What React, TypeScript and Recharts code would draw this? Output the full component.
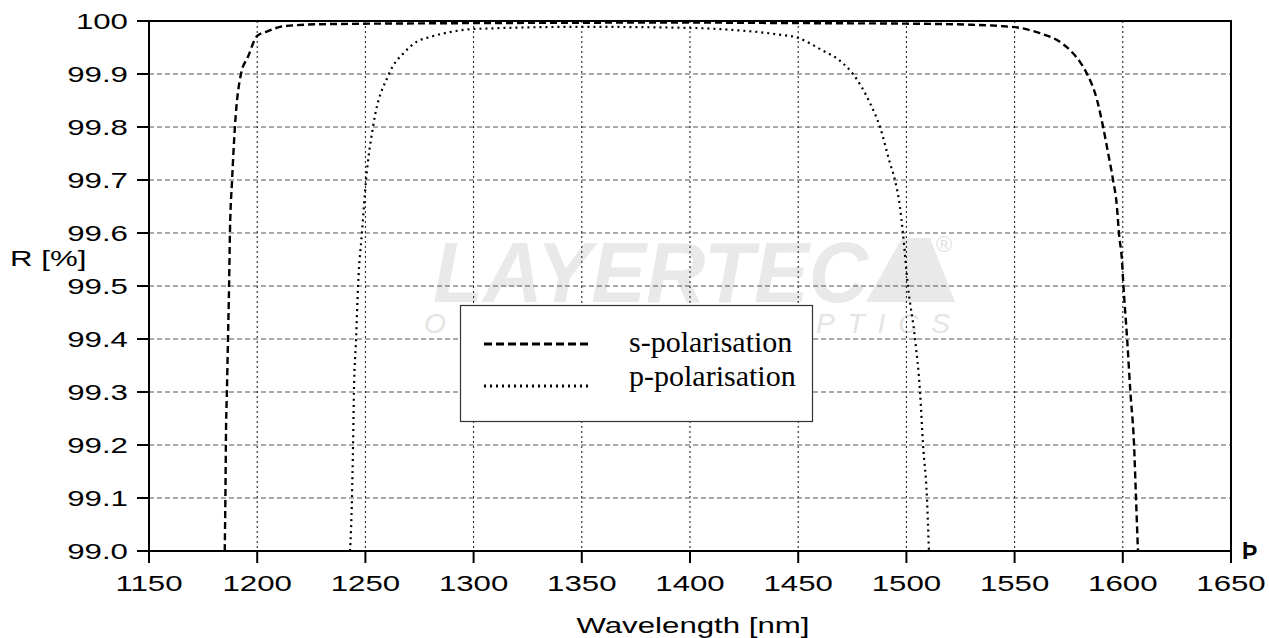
import React from 'react';
import { LineChart, Line, XAxis, YAxis, CartesianGrid } from 'recharts';

const xTicks = [1150, 1200, 1250, 1300, 1350, 1400, 1450, 1500, 1550, 1600, 1650];
const yTicks = [99.0, 99.1, 99.2, 99.3, 99.4, 99.5, 99.6, 99.7, 99.8, 99.9, 100];

// s-polarisation
const sWavelength = [
    1185.0, 1185.3, 1185.6, 1186.0, 1186.5, 1187.0, 1187.4, 1188.4, 1189.7, 1192.5, 1195.7, 1200.0,
    1205.0, 1212.0, 1230.0, 1300.0, 1400.0, 1450.0, 1500.0, 1530.0, 1545.0, 1552.5, 1561.7, 1569.6,
    1575.6, 1580.2, 1583.5, 1588.1, 1590.9, 1593.2, 1595.5, 1597.3, 1598.2, 1599.6, 1600.3, 1602.0,
    1603.5, 1605.2, 1606.1, 1607.0,
];
const sReflectance = [
    99.0, 99.1, 99.23, 99.3, 99.4, 99.5, 99.6, 99.7, 99.8, 99.9, 99.932, 99.972,
    99.981, 99.99, 99.994, 99.996, 99.997, 99.996, 99.995, 99.993, 99.99, 99.987, 99.977, 99.964,
    99.945, 99.923, 99.9, 99.851, 99.8, 99.751, 99.7, 99.649, 99.6, 99.549, 99.5, 99.4,
    99.3, 99.2, 99.1, 99.0,
];

// p-polarisation
const pWavelength = [
    1242.9, 1243.8, 1244.3, 1244.7, 1245.7, 1246.6, 1248.4, 1250.3, 1253.5, 1260.9, 1268.3, 1273.8,
    1280.0, 1289.0, 1300.6, 1350.0, 1400.0, 1420.0, 1440.0, 1450.0, 1461.0, 1469.3, 1475.3, 1483.2,
    1487.8, 1492.4, 1494.7, 1497.0, 1498.4, 1500.7, 1504.0, 1506.3, 1507.7, 1509.5, 1510.4,
];
const pReflectance = [
    99.0, 99.1, 99.2, 99.3, 99.4, 99.5, 99.6, 99.7, 99.8, 99.9, 99.942, 99.961,
    99.97, 99.979, 99.985, 99.989, 99.987, 99.983, 99.975, 99.968, 99.945, 99.925, 99.9, 99.845,
    99.8, 99.732, 99.7, 99.65, 99.6, 99.5, 99.4, 99.3, 99.2, 99.1, 99.0,
];

const sData = sWavelength.map((wl, i) => ({ wl, r: sReflectance[i] }));
const pData = pWavelength.map((wl, i) => ({ wl, r: pReflectance[i] }));

const STRETCH = 1.42;
const sansFont = '"Liberation Sans", Arial, sans-serif';
const serifFont = '"Liberation Serif", "Times New Roman", serif';
const frame = { stroke: '#000', strokeWidth: 2 };

const YTick = ({ x, y, payload }: any) => (
    <text
        transform={`translate(${x},${y}) scale(${STRETCH},1)`}
        textAnchor="end"
        dy="0.36em"
        fontSize={22}
        fontFamily={sansFont}
        fill="#000"
    >
        {payload.value === 100 ? '100' : Number(payload.value).toFixed(1)}
    </text>
);

const XTick = ({ x, y, payload }: any) => (
    <text
        transform={`translate(${x},${y}) scale(${STRETCH},1)`}
        textAnchor="middle"
        dy={20}
        fontSize={22}
        fontFamily={sansFont}
        fill="#000"
    >
        {payload.value}
    </text>
);

const App = () => {
    return (
        <div style={{ position: 'absolute', left: 0, top: 0, width: 1269, height: 638, background: '#fff' }}>
            {/* watermark, under the grid */}
            <svg width={1269} height={638} style={{ position: 'absolute', left: 0, top: 0 }}>
                <text
                    x={433}
                    y={302}
                    fontSize={86}
                    fontWeight={900}
                    fontStyle="italic"
                    fontFamily={sansFont}
                    fill="#e9e9e9"
                    textLength={435}
                    lengthAdjust="spacingAndGlyphs"
                >
                    LAYERTEC
                </text>
                <polygon points="866,302 902,238 930,238 955,302" fill="#e9e9e9" />
                <text x={936} y={252} fontSize={22} fontFamily={sansFont} fill="#e2e2e2">®</text>
                <text x={424} y={333} fontSize={28} fontWeight={300} fontStyle="italic" fontFamily={sansFont} fill="#e4e4e4">
                    O
                </text>
                <text
                    x={816}
                    y={333}
                    fontSize={28}
                    fontWeight={300}
                    fontStyle="italic"
                    fontFamily={sansFont}
                    fill="#e4e4e4"
                    textLength={134}
                    lengthAdjust="spacing"
                >
                    PTICS
                </text>
            </svg>

            <div style={{ position: 'absolute', left: 0, top: 0 }}>
                <LineChart width={1269} height={638} margin={{ top: 21, right: 38, left: 0, bottom: 0 }}>
                    <CartesianGrid horizontal vertical={false} stroke="#555" strokeDasharray="5 3" />
                    <CartesianGrid horizontal={false} vertical stroke="#111" strokeDasharray="2 3" />
                    <XAxis
                        type="number"
                        dataKey="wl"
                        domain={[1150, 1650]}
                        ticks={xTicks}
                        allowDataOverflow
                        height={87}
                        tickSize={12}
                        tickMargin={8}
                        axisLine={frame}
                        tickLine={frame}
                        tick={<XTick />}
                    />
                    <YAxis
                        type="number"
                        dataKey="r"
                        domain={[99, 100]}
                        ticks={yTicks}
                        allowDataOverflow
                        width={149}
                        tickSize={12}
                        tickMargin={9}
                        axisLine={frame}
                        tickLine={frame}
                        tick={<YTick />}
                    />
                    <Line
                        data={sData}
                        dataKey="r"
                        type="monotone"
                        stroke="#000"
                        strokeWidth={2.4}
                        strokeDasharray="7 4"
                        dot={false}
                        isAnimationActive={false}
                    />
                    <Line
                        data={pData}
                        dataKey="r"
                        type="monotone"
                        stroke="#000"
                        strokeWidth={2.2}
                        strokeDasharray="2 4"
                        dot={false}
                        isAnimationActive={false}
                    />
                </LineChart>
            </div>

            {/* plot frame, axis titles and legend box */}
            <svg width={1269} height={638} style={{ position: 'absolute', left: 0, top: 0, pointerEvents: 'none' }}>
                <rect x={149} y={21} width={1082} height={530} fill="none" stroke="#000" strokeWidth={2} />
                <text transform={`translate(10,266) scale(${STRETCH},1)`} fontSize={22} fontFamily={sansFont} fill="#000">
                    R [%]
                </text>
                <text transform={`translate(693,633) scale(${STRETCH},1)`} textAnchor="middle" fontSize={22} fontFamily={sansFont} fill="#000">
                    Wavelength [nm]
                </text>
                <text x={1242} y={559} fontSize={23} fontWeight={700} fontFamily={sansFont} fill="#000">Þ</text>

                <rect x={460.5} y={305.5} width={352} height={116} fill="#fff" stroke="#333" strokeWidth={1.2} />
                <line x1={484} y1={344} x2={590} y2={344} stroke="#000" strokeWidth={3} strokeDasharray="8 4" />
                <line x1={484} y1={386} x2={590} y2={386} stroke="#000" strokeWidth={3} strokeDasharray="2 4" />
                <text x={629} y={352} fontSize={30} fontFamily={serifFont} fill="#000">s-polarisation</text>
                <text x={629} y={386} fontSize={30} fontFamily={serifFont} fill="#000">p-polarisation</text>
            </svg>
        </div>
    );
};

export default App;
